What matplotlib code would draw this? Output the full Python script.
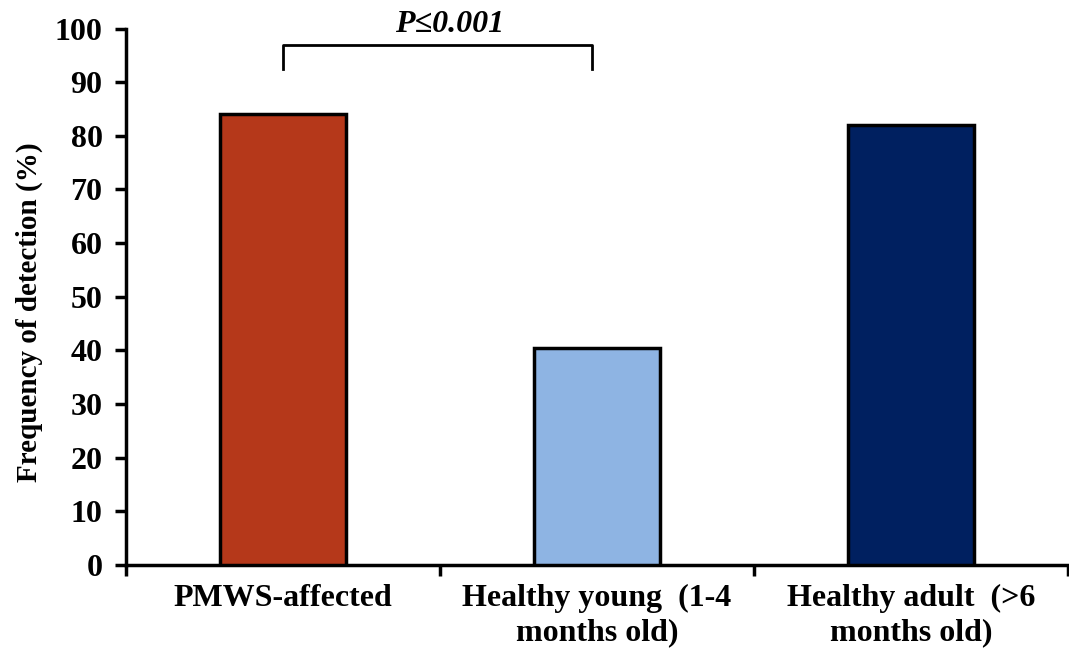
import matplotlib
matplotlib.use("Agg")
import matplotlib.pyplot as plt

categories = ["PMWS-affected", "Healthy young  (1-4\nmonths old)", "Healthy adult  (>6\nmonths old)"]
values = [84, 40.5, 82]
colors = ["#B5381A", "#8EB4E3", "#002060"]
yticks = [0, 10, 20, 30, 40, 50, 60, 70, 80, 90, 100]
pval_text = "P≤0.001"

plt.rcParams['font.family'] = ['Liberation Serif', 'DejaVu Serif']
plt.rcParams['font.weight'] = 'bold'

fig = plt.figure(figsize=(10.69, 6.5), dpi=100)
ax = fig.add_axes([0.118, 0.131, 0.881, 0.825])

x = list(range(len(categories)))
ax.bar(x, values, width=0.40, color=colors, edgecolor='black', linewidth=2.5, zorder=3)

ax.set_xlim(-0.5, len(categories) - 0.5)
ax.set_ylim(0, 100)
ax.set_yticks(yticks)
ax.set_yticklabels([str(t) for t in yticks], fontsize=23, fontweight='bold')
ax.set_xticks([-0.5, 0.5, 1.5, 2.5])
ax.set_xticklabels([])
ax.set_xticks(x, minor=True)
ax.set_xticklabels(categories, minor=True, fontsize=23, fontweight='bold', linespacing=1.2)
ax.tick_params(axis='x', which='minor', length=0, pad=14)
ax.tick_params(axis='x', which='major', length=8, width=2.5, direction='out')
ax.tick_params(axis='y', length=8, width=2.5, direction='out', pad=9)

for s in ['top', 'right']:
    ax.spines[s].set_visible(False)
for s in ['left', 'bottom']:
    ax.spines[s].set_linewidth(2.5)

ax.set_ylabel("Frequency of detection (%)", fontsize=21, fontweight='bold')
ax.yaxis.set_label_coords(-0.088, 0.472)

# significance bracket
ax.plot([0.0, 0.0, 0.985, 0.985], [92.5, 97, 97, 92.5], color='black', linewidth=2, clip_on=False, zorder=4)
ax.text(0.53, 99.4, pval_text, ha='center', va='baseline', fontsize=23, fontweight='bold', style='italic', clip_on=False)

fig.savefig("out.png", dpi=100)
